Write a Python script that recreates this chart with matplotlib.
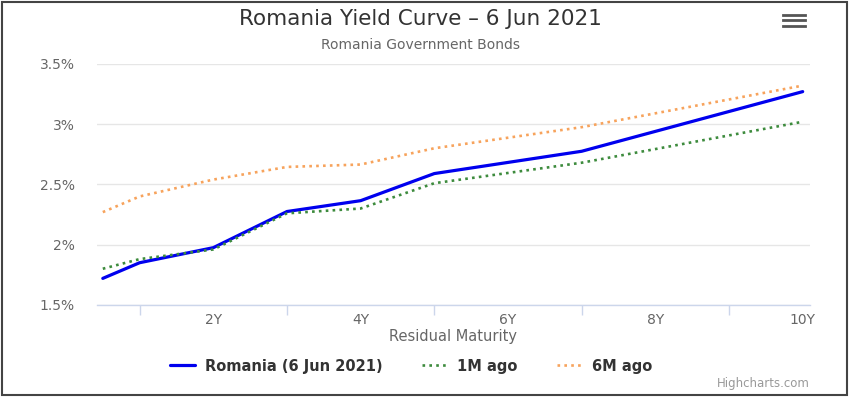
import matplotlib
matplotlib.use('Agg')
import matplotlib.pyplot as plt
from matplotlib.patches import Rectangle
from matplotlib.lines import Line2D

# maturities in years (6M = 0.5)
maturities = [0.5, 1, 2, 3, 4, 5, 7, 10]
romania = [1.72, 1.85, 1.975, 2.275, 2.365, 2.59, 2.775, 3.27]
ago_1m = [1.80, 1.88, 1.96, 2.26, 2.30, 2.51, 2.68, 3.02]
ago_6m = [2.27, 2.40, 2.54, 2.645, 2.665, 2.80, 2.975, 3.32]

label_years = [2, 4, 6, 8, 10]
label_text = ['2Y', '4Y', '6Y', '8Y', '10Y']
tick_years = [1, 3, 5, 7, 9, 10]
y_ticks = [1.5, 2.0, 2.5, 3.0, 3.5]
y_labels = ['1.5%', '2%', '2.5%', '3%', '3.5%']

fig = plt.figure(figsize=(8.5, 3.97), dpi=100)
ax = fig.add_axes([0.114, 0.232, 0.839, 0.607])

ax.plot(maturities, romania, color='#0000ee', lw=2.3, label='Romania (6 Jun 2021)', solid_capstyle='round')
ax.plot(maturities, ago_1m, color='#3d8b3d', lw=1.9, ls=(0, (1, 1.6)), label='1M ago')
ax.plot(maturities, ago_6m, color='#f7a35c', lw=1.9, ls=(0, (1, 1.6)), label='6M ago')

ax.set_xlim(0.42, 10.1)
ax.set_ylim(1.5, 3.5)
ax.set_yticks(y_ticks)
ax.set_yticklabels(y_labels)
ax.set_xticks(label_years)
ax.set_xticklabels(label_text)
ax.set_xticks(tick_years, minor=True)
ax.tick_params(axis='x', which='major', length=0, pad=6, labelsize=10, colors='#666666')
ax.tick_params(axis='x', which='minor', length=7, width=1, color='#ccd6eb')
ax.tick_params(axis='y', length=0, pad=16, labelsize=10, colors='#666666')

ax.grid(axis='y', color='#e6e6e6', lw=1)
ax.set_axisbelow(True)
for s in ['top', 'right', 'left']:
    ax.spines[s].set_visible(False)
ax.spines['bottom'].set_color('#ccd6eb')
ax.spines['bottom'].set_linewidth(1)

ax.set_xlabel('Residual Maturity', fontsize=10.5, color='#666666', labelpad=1)

fig.text(0.495, 0.952, 'Romania Yield Curve \u2013 6 Jun 2021', ha='center', va='center',
         fontsize=15.5, color='#333333')
fig.text(0.495, 0.887, 'Romania Government Bonds', ha='center', va='center',
         fontsize=10, color='#666666')
fig.text(0.953, 0.034, 'Highcharts.com', ha='right', va='center', fontsize=8.5, color='#999999')

# menu icon
for yy in [0.935, 0.949, 0.963]:
    fig.add_artist(Line2D([0.921, 0.947], [yy, yy], color='#555555', lw=2.0,
                          transform=fig.transFigure))

leg = fig.legend(loc='center', bbox_to_anchor=(0.484, 0.078), ncol=3, frameon=False,
                 prop={'weight': 'bold', 'size': 10.5}, handlelength=1.7, columnspacing=2.7,
                 handletextpad=0.7)
for t in leg.get_texts():
    t.set_color('#333333')

fig.add_artist(Rectangle((0.002, 0.004), 0.995, 0.991, transform=fig.transFigure,
                         fill=False, edgecolor='#444444', lw=1.5))

fig.savefig('out.png', dpi=100)
